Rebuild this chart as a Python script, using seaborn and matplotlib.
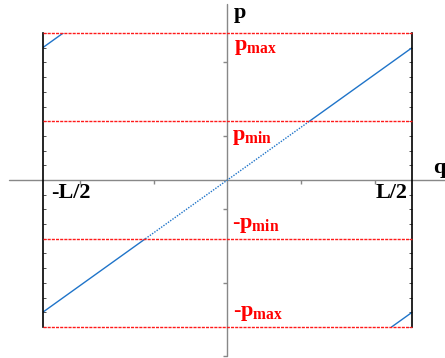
import numpy as np
import pandas as pd
import matplotlib
matplotlib.use("Agg")
import matplotlib.pyplot as plt
from matplotlib.markers import TICKDOWN, TICKLEFT
from matplotlib.ticker import MultipleLocator
import seaborn as sns

# Phase-space parameters (q periodic over [-L/2, L/2])
L_HALF = 2.5
P_MAX = 2.0
P_MIN = 0.8
SLOPE = 0.72          # dp/dq of the trajectory

# Axis labels
Q_LABELS = ["-L/2", "L/2"]
P_LABELS = ["-$p_{max}$", "-$p_{min}$", "$p_{min}$", "$p_{max}$"]

# Ruler ticks on the central axes
Q_TICKS = [-2, -1, 1, 2]
P_TICKS = [-2.4, -1.4, -0.4, 0.6, 1.6]

sns.set_style("white")
plt.rcParams.update({
    "font.family": ["Liberation Serif", "DejaVu Serif"],
    "font.weight": "bold",
    "mathtext.fontset": "custom",
    "mathtext.rm": "Liberation Serif:bold",
    "mathtext.it": "Liberation Serif:bold",
    "mathtext.bf": "Liberation Serif:bold",
})

fig = plt.figure(figsize=(4.45, 3.58), dpi=100)
ax = fig.add_axes([0.096, 0.0866, 0.830, 0.8212])
ax.set_xlim(-L_HALF, L_HALF)
ax.set_ylim(-P_MAX, P_MAX)

# Trajectory segments: p = SLOPE * q, wrapped periodically in q
L = 2 * L_HALF
q_in = P_MIN / SLOPE
q_top = P_MAX / SLOPE
segments = [
    ("solid", np.array([-L_HALF, -q_in]), 0.0),
    ("dotted", np.array([-q_in, q_in]), 0.0),
    ("solid", np.array([q_in, L_HALF]), 0.0),
    ("solid", np.array([-L_HALF, q_top - L]), L),
    ("solid", np.array([L - q_top, L_HALF]), -L),
]
blue = "#1f74c9"
for style, q, shift in segments:
    df = pd.DataFrame({"q": q, "p": SLOPE * (q + shift)})
    ls = "-" if style == "solid" else (0, (1, 1))
    sns.lineplot(data=df, x="q", y="p", ax=ax, color=blue, lw=1.0,
                 linestyle=ls, sort=False, estimator=None)

# Momentum bounds
for pv in (-P_MAX, -P_MIN, P_MIN, P_MAX):
    ax.plot([-L_HALF, L_HALF], [pv, pv], color="#ff1a1a", lw=1.0,
            linestyle=(0, (2.2, 0.8)), clip_on=False, zorder=3)

# Central axes
gray = "#888888"
ax.plot([-2.95, 2.95], [0, 0], color=gray, lw=1.0, clip_on=False, zorder=1)
ax.plot([0, 0], [-2.4, 2.4], color=gray, lw=1.0, clip_on=False, zorder=1)
ax.plot(Q_TICKS, [0] * len(Q_TICKS), ls="none", marker=TICKDOWN,
        markersize=3, color=gray, mew=1.0, clip_on=False)
ax.plot([0] * len(P_TICKS), P_TICKS, ls="none", marker=TICKLEFT,
        markersize=3, color=gray, mew=1.0, clip_on=False)

# Boundary walls at q = +-L/2
for side in ("top", "bottom"):
    ax.spines[side].set_visible(False)
for side in ("left", "right"):
    ax.spines[side].set_visible(True)
    ax.spines[side].set_color("black")
    ax.spines[side].set_linewidth(1.2)
ax.set_xticks([])
ax.yaxis.set_major_locator(MultipleLocator(0.2))
ax.set_yticklabels([])
ax.tick_params(axis="y", which="major", direction="in", length=2.0,
               width=0.6, left=True, right=True, color="#333333")
ax.set_xlabel("")
ax.set_ylabel("")

fs = 16
ax.text(0.08, 2.204, "p", fontsize=fs, color="black", fontweight="bold",
        ha="left", va="baseline", clip_on=False)
ax.text(2.79, 0.095, "q", fontsize=fs, color="black", fontweight="bold",
        ha="left", va="baseline", clip_on=False)
ax.text(-2.38, -0.245, Q_LABELS[0], fontsize=fs, color="black",
        fontweight="bold", ha="left", va="baseline")
ax.text(2.0, -0.245, Q_LABELS[1], fontsize=fs, color="black",
        fontweight="bold", ha="left", va="baseline")

red = "#ff0000"
p_label_pos = [(0.08, -1.85), (0.06, -0.653), (0.06, 0.544), (0.09, 1.769)]
for lab, (x, y) in zip(P_LABELS, p_label_pos):
    ax.text(x, y, lab, fontsize=fs, color=red, fontweight="bold",
            ha="left", va="baseline")

fig.savefig("out.png", dpi=100)
